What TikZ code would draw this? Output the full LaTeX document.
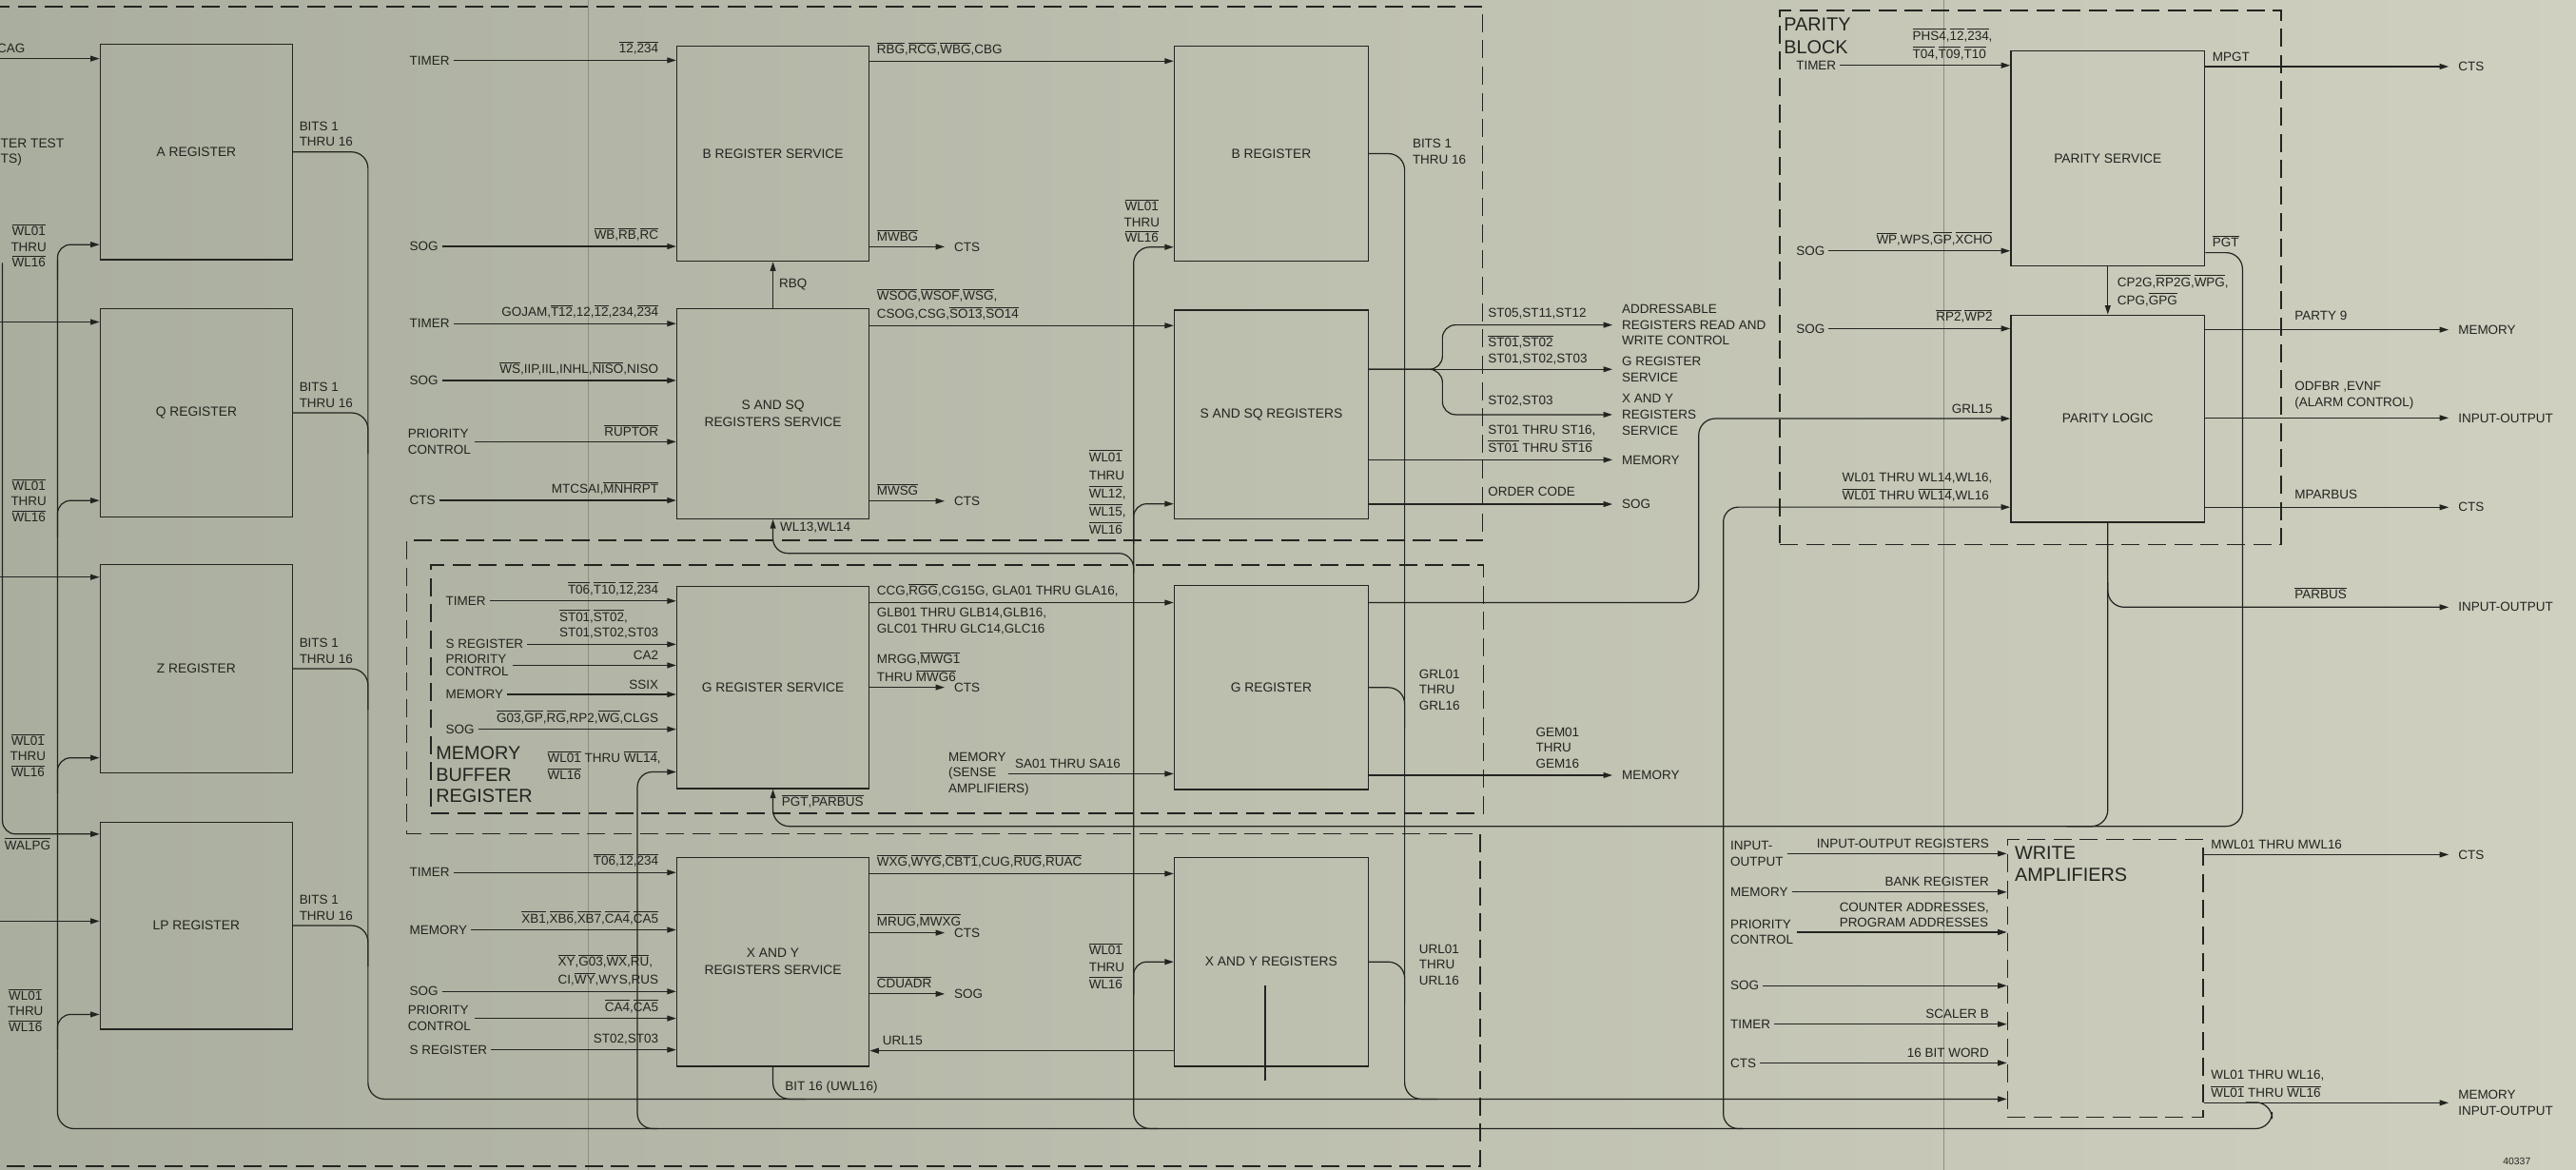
\documentclass[tikz,border=0pt]{standalone}
\usepackage{fontspec}
\setmainfont{Liberation Sans}
\usetikzlibrary{arrows.meta, positioning}

\definecolor{ink}{RGB}{34,36,32}
\definecolor{bgl}{RGB}{170,174,158}
\definecolor{bgm}{RGB}{192,196,180}
\definecolor{bgr}{RGB}{208,208,192}
\definecolor{crease}{RGB}{140,144,130}

\newcommand{\nsig}[1]{\leavevmode\vbox{\hrule height 0.5pt\kern 0.9pt\hbox{#1}}}

\begin{document}
\begin{tikzpicture}[
    x=1pt, y=-1pt, >={Triangle[length=5.5pt, width=3.4pt]},
    color=ink, line width=0.7pt,
    sig/.style={font=\fontsize{7.8}{11}\selectfont, inner sep=1.5pt, align=left},
    sig9/.style={sig, font=\fontsize{7.8}{9.6}\selectfont},
    src/.style={sig9, anchor=west, inner xsep=2pt},
    dest/.style={sig9, anchor=west, inner xsep=5.5pt},
    lin/.style={sig, pos=1, anchor=south east, xshift=-9pt, yshift=1.5pt},
    lout/.style={sig, pos=0, anchor=south west, xshift=2.5pt, yshift=1.5pt},
    tag/.style={sig, anchor=south west},
    regbox/.style={draw, line width=0.8pt, minimum width=117pt, inner sep=2pt,
                   align=center, font=\fontsize{8}{10.5}\selectfont},
    dashbox/.style={draw, line width=0.9pt, dash pattern=on 11pt off 5pt},
    bigtxt/.style={font=\fontsize{11.5}{13}\selectfont, align=left, inner sep=1.5pt}
  ]
  \useasboundingbox (0,0) rectangle (1568,712);
  \shade[left color=bgl, middle color=bgm, right color=bgr] (0,0) rectangle (1568,712);
  \draw[crease, line width=0.5pt] (358,0) -- (358,712);
  \draw[crease, line width=0.5pt] (1183,0) -- (1183,712);

  \draw[dashbox] (-5,4) -- (902.5,4) -- (902.5,329) -- (247.5,329) -- (247.5,507.5)
    -- (901,507.5) -- (901,710) -- (-5,710);
  \node[dashbox, minimum width=640.5pt, minimum height=151pt, anchor=north west] (mbr) at (262,343.5) {};
  \node[bigtxt, anchor=south west] (mbrtxt) at ([xshift=1.5pt, yshift=5pt]mbr.south west) {MEMORY\\BUFFER\\REGISTER};
  \node[dashbox, minimum width=305pt, minimum height=325pt, anchor=north west] (pblk) at (1083,6) {};
  \node[bigtxt, font=\fontsize{11.5}{14}\selectfont, anchor=north west] (pblktxt) at ([xshift=1pt, yshift=-3pt]pblk.north west) {PARITY\\BLOCK};

  \node[regbox, minimum height=131pt] (areg) at (119.5,92.5) {A REGISTER};
  \node[regbox, minimum height=127pt, below=29pt of areg] (qreg) {Q REGISTER};
  \node[regbox, minimum height=127pt, below=28pt of qreg] (zreg) {Z REGISTER};
  \node[regbox, minimum height=126pt, below=29pt of zreg] (lpreg) {LP REGISTER};

  \node[regbox, minimum height=131pt] (bserv) at (470.5,93.5) {B REGISTER SERVICE};
  \node[regbox, minimum height=128pt, below=28pt of bserv] (sserv) {S AND SQ\\REGISTERS SERVICE};
  \node[regbox, minimum height=123pt] (gserv) at (470.5,418.5) {G REGISTER SERVICE};
  \node[regbox, minimum height=127pt] (xserv) at (470.5,585.5) {X AND Y\\REGISTERS SERVICE};

  \node[regbox, minimum width=118pt, minimum height=131pt, right=185pt of bserv] (breg) {B REGISTER};
  \node[regbox, minimum width=118pt, minimum height=127pt, below=29pt of breg] (sreg) {S AND SQ REGISTERS};
  \node[regbox, minimum width=118pt, minimum height=124pt, right=185pt of gserv] (greg) {G REGISTER};
  \node[regbox, minimum width=118pt, minimum height=127pt, right=185pt of xserv] (xreg) {X AND Y REGISTERS};

  \node[regbox, minimum width=118pt, minimum height=131pt] (pserv) at (1283,96.5) {PARITY SERVICE};
  \node[regbox, minimum width=118pt, minimum height=126pt, below=29pt of pserv] (plogic) {PARITY LOGIC};
  \node[dashbox, minimum width=119pt, minimum height=169pt] (wamp) at (1281.5,595.5) {};
  \node[bigtxt, anchor=north west] (watxt) at ([xshift=3pt, yshift=-3pt]wamp.north west) {WRITE\\AMPLIFIERS};

  \coordinate (cagin) at (-2,35.7);
  \coordinate (qin) at (-2,196);
  \coordinate (zin) at (-2,351.3);
  \coordinate (lpin) at (-2,560.7);
  \coordinate (walpg) at (1.5,160);
  \node[tag] (cag) at (-3.5,34) {CAG};
  \node[sig9, font=\fontsize{8}{9.5}\selectfont, anchor=west] (ttest) at (-1.5,92.7) {TER TEST\\TS)};
  \draw[->] (cagin) -- (areg.west |- cagin);
  \draw[->] (qin) -- (qreg.west |- qin);
  \draw[->] (zin) -- (zreg.west |- zin);
  \draw[->] (lpin) -- (lpreg.west |- lpin);
  \draw[->, rounded corners=8pt] (walpg) |- ([yshift=-7.7pt]lpreg.north west);
  \node[sig, anchor=west] (walpgl) at (1,513.8) {\nsig{WALPG}};

  \coordinate (wlL) at (35,687);
  \coordinate (wlR) at (1383,687);
  \draw[rounded corners=10pt] (wlL |- areg.south) -- (wlL) -- (wlR) -- ++(0,-16) -- ++(-16,0);
  \draw[->, rounded corners=8pt] ([yshift=-12pt]wlL |- areg.south) |- ([yshift=9.5pt]areg.south west);
  \draw[->, rounded corners=8pt] ([yshift=-12pt]wlL |- qreg.south) |- ([yshift=10.5pt]qreg.south west);
  \draw[->, rounded corners=8pt] ([yshift=-12pt]wlL |- zreg.south) |- ([yshift=9.7pt]zreg.south west);
  \draw[->, rounded corners=8pt] ([yshift=-12pt]wlL |- lpreg.south) |- ([yshift=9.3pt]lpreg.south west);
  \node[sig9, align=center] (wla) at (17.5,149.5) {\nsig{WL01}\\THRU\\\nsig{WL16}};
  \node[sig9, align=center] (wlq) at (17.5,304.6) {\nsig{WL01}\\THRU\\\nsig{WL16}};
  \node[sig9, align=center] (wlz) at (17,459.8) {\nsig{WL01}\\THRU\\\nsig{WL16}};
  \node[sig9, align=center] (wllp) at (15.5,615) {\nsig{WL01}\\THRU\\\nsig{WL16}};

  \coordinate (bitL) at (224,669);
  \coordinate (bitR) at (855,669);
  \draw[->, rounded corners=10pt] (areg.east) -| (bitL) -- (wamp.west |- bitL);
  \draw[rounded corners=10pt] (qreg.east) -| ([yshift=-25pt]qreg.east -| bitL);
  \draw[rounded corners=10pt] (zreg.east) -| ([yshift=-25pt]zreg.east -| bitL);
  \draw[rounded corners=10pt] (lpreg.east) -| ([yshift=-25pt]lpreg.east -| bitL);
  \node[sig9, anchor=south west] (bitsa) at ([xshift=2pt, yshift=1.5pt]areg.east) {BITS 1\\THRU 16};
  \node[sig9, anchor=south west] (bitsq) at ([xshift=2pt, yshift=1.5pt]qreg.east) {BITS 1\\THRU 16};
  \node[sig9, anchor=south west] (bitsz) at ([xshift=2pt, yshift=1.5pt]zreg.east) {BITS 1\\THRU 16};
  \node[sig9, anchor=south west] (bitslp) at ([xshift=2pt, yshift=1.5pt]lpreg.east) {BITS 1\\THRU 16};

  \draw[rounded corners=10pt] (breg.east) -| (bitR) -- ++(20,0);
  \draw[rounded corners=10pt] (greg.east) -| ([yshift=-25pt]greg.east -| bitR);
  \draw[rounded corners=10pt] (xreg.east) -| ([yshift=-25pt]xreg.east -| bitR);
  \draw[rounded corners=10pt] (xserv.south) |- ([xshift=20pt]xserv.south |- bitL);
  \node[sig9, anchor=north west] (bitsb) at (858,83) {BITS 1\\THRU 16};
  \node[sig9, anchor=west] (grl) at (862,419.8) {GRL01\\THRU\\GRL16};
  \node[sig9, anchor=west] (url) at (862,587.3) {URL01\\THRU\\URL16};
  \node[sig, anchor=west] (bit16) at (476,662) {BIT 16 (UWL16)};

  \coordinate (wlM) at (690,687);
  \coordinate (wlG) at (388,687);
  \coordinate (wlP) at (1049,687);
  \draw[->, rounded corners=10pt] ([xshift=15pt]wlM) -- (wlM) |- ([yshift=9pt]breg.south west);
  \draw[->, rounded corners=8pt] ([yshift=-15pt]wlM |- sreg.south) |- ([yshift=9.5pt]sreg.south west);
  \draw[->, rounded corners=8pt] ([yshift=-20pt]wlM |- xreg.west) |- (xreg.west);
  \draw[->, rounded corners=9pt] ([yshift=-12pt]wlM |- 0,336.8) -- (wlM |- 0,336.8) -| (sserv.south);
  \draw[->, rounded corners=9pt] ([xshift=12pt]wlG) -- (wlG) |- ([yshift=10.5pt]gserv.south west);
  \node[sig9, align=center] (wlb) at (695,134.6) {\nsig{WL01}\\THRU\\\nsig{WL16}};
  \node[sig, anchor=west] (wls) at (661,299.5) {\nsig{WL01}\\THRU\\\nsig{WL12},\\\nsig{WL15},\\\nsig{WL16}};
  \node[sig9, font=\fontsize{7.8}{10.3}\selectfont, anchor=west] (wlx) at (661,588) {\nsig{WL01}\\THRU\\\nsig{WL16}};
  \node[sig, anchor=west] (wl1314) at (473,321.3) {WL13,WL14};
  \node[sig9, font=\fontsize{7.8}{10.1}\selectfont, anchor=west] (wlg) at (331.5,466) {\nsig{WL01} THRU \nsig{WL14},\\\nsig{WL16}};

  \node[src] (tm1) at (247,36.7) {TIMER};
  \draw[->] (tm1) -- (bserv.west |- tm1) node[lin] {\nsig{12},\nsig{234}};
  \node[src] (sg1) at (247,150) {SOG};
  \draw[->] (sg1) -- (bserv.west |- sg1) node[lin] {\nsig{WB},\nsig{RB},\nsig{RC}};
  \node[src] (tm2) at (247,197) {TIMER};
  \draw[->] (tm2) -- (sserv.west |- tm2) node[lin] {GOJAM,\nsig{T12},12,\nsig{12},234,\nsig{234}};
  \node[src] (sg2) at (247,231.6) {SOG};
  \draw[->] (sg2) -- (sserv.west |- sg2) node[lin] {\nsig{WS},IIP,IIL,INHL,\nsig{NISO},NISO};
  \node[src] (pr1) at (246,268.9) {PRIORITY\\CONTROL};
  \draw[->] (pr1) -- (sserv.west |- pr1) node[lin] {\nsig{RUPTOR}};
  \node[src] (ct1) at (247,304.6) {CTS};
  \draw[->] (ct1) -- (sserv.west |- ct1) node[lin] {MTCSAI,\nsig{MNHRPT}};

  \draw[->] ([yshift=-9.6pt]bserv.north east) -- ([yshift=-9.6pt]bserv.north east -| breg.west)
    node[lout] {\nsig{RBG},\nsig{RCG},\nsig{WBG},CBG};
  \node[dest] (cts5) at (575,150.2) {CTS};
  \draw[->] (bserv.east |- cts5) -- (cts5) node[lout] {\nsig{MWBG}};
  \draw[->] (sserv) -- (bserv) node[sig, midway, anchor=west, xshift=2pt] {RBQ};
  \draw[->] ([yshift=-10.8pt]sserv.north east) -- ([yshift=-10.8pt]sserv.north east -| sreg.west)
    node[lout] {\nsig{WSOG},\nsig{WSOF},\nsig{WSG},\\CSOG,CSG,\nsig{SO13},\nsig{SO14}};
  \node[dest] (cts6) at (575,305) {CTS};
  \draw[->] (sserv.east |- cts6) -- (cts6) node[lout] {\nsig{MWSG}};

  \node[src] (tm3) at (269,365.8) {TIMER};
  \draw[->] (tm3) -- (gserv.west |- tm3) node[lin] {\nsig{T06},\nsig{T10},\nsig{12},\nsig{234}};
  \node[src] (sr1) at (269,392.2) {S REGISTER};
  \draw[->] (sr1) -- (gserv.west |- sr1) node[lin, font=\fontsize{7.8}{9.6}\selectfont] {\nsig{ST01},\nsig{ST02},\\ST01,ST02,ST03};
  \node[src, font=\fontsize{7.8}{7.6}\selectfont] (pr2) at (269,405) {PRIORITY\\CONTROL};
  \draw[->] (pr2) -- (gserv.west |- pr2) node[lin] {CA2};
  \node[src] (me1) at (269,422.7) {MEMORY};
  \draw[->] (me1) -- (gserv.west |- me1) node[lin] {SSIX};
  \node[src] (sg3) at (269,443.9) {SOG};
  \draw[->] (sg3) -- (gserv.west |- sg3) node[lin] {\nsig{G03},\nsig{GP},\nsig{RG},RP2,\nsig{WG},CLGS};

  \draw[->] ([yshift=-10.2pt]gserv.north east) -- ([yshift=-10.2pt]gserv.north east -| greg.west)
    node[lout] {CCG,\nsig{RGG},CG15G, GLA01 THRU GLA16,}
    node[sig9, pos=0, anchor=north west, xshift=2.5pt, yshift=-1.5pt] {GLB01 THRU GLB14,GLB16,\\GLC01 THRU GLC14,GLC16};
  \node[dest] (cts3) at (575,418.4) {CTS};
  \draw[->] (gserv.east |- cts3) -- (cts3) node[lout] {MRGG,\nsig{MWG1}\\THRU \nsig{MWG6}};
  \node[sig9, anchor=west] (sense) at (575.5,471) {MEMORY\\(SENSE\\AMPLIFIERS)};
  \coordinate (sensout) at (613.5,471);
  \draw[->] (sensout) -- (greg.west |- sensout) node[lout] {SA01 THRU SA16};

  \coordinate (pgtR) at (1365,503);
  \draw[->, rounded corners=10pt] ([yshift=8.6pt]pserv.south east) -| (pgtR) node[lout] {\nsig{PGT}} -| (gserv.south);
  \draw[rounded corners=10pt] (plogic.south) |- ([xshift=-25pt]plogic.south |- pgtR);
  \node[sig, anchor=west] (pgtpar) at (474,487.9) {\nsig{PGT},\nsig{PARBUS}};

  \node[src] (tm4) at (247,531.1) {TIMER};
  \draw[->] (tm4) -- (xserv.west |- tm4) node[lin] {\nsig{T06},\nsig{12},\nsig{234}};
  \node[src] (me2) at (247,566) {MEMORY};
  \draw[->] (me2) -- (xserv.west |- me2) node[lin] {\nsig{XB1},\nsig{XB6},\nsig{XB7},\nsig{CA4},\nsig{CA5}};
  \node[src] (sg4) at (247,603.5) {SOG};
  \draw[->] (sg4) -- (xserv.west |- sg4) node[lin] {\nsig{XY},\nsig{G03},\nsig{WX},\nsig{RU},\\CI,\nsig{WY},WYS,RUS};
  \node[src] (pr3) at (246,619.9) {PRIORITY\\CONTROL};
  \draw[->] (pr3) -- (xserv.west |- pr3) node[lin] {\nsig{CA4},\nsig{CA5}};
  \node[src] (sr2) at (247,639) {S REGISTER};
  \draw[->] (sr2) -- (xserv.west |- sr2) node[lin] {ST02,ST03};

  \draw[->] ([yshift=-10.2pt]xserv.north east) -- ([yshift=-10.2pt]xserv.north east -| xreg.west)
    node[lout] {\nsig{WXG},\nsig{WYG},\nsig{CBT1},CUG,\nsig{RUG},\nsig{RUAC}};
  \node[dest] (cts4) at (575,567.8) {CTS};
  \draw[->] (xserv.east |- cts4) -- (cts4) node[lout] {\nsig{MRUG},\nsig{MWXG}};
  \node[dest] (sog3) at (575,605) {SOG};
  \draw[->] (xserv.east |- sog3) -- (sog3) node[lout] {\nsig{CDUADR}};
  \draw[->] ([yshift=9.8pt]xreg.south west) -- ([yshift=9.8pt]xreg.south west -| xserv.east)
    node[sig, pos=1, anchor=south west, xshift=6pt, yshift=1.5pt] {URL15};
  \draw[line width=1.1pt] (770,600) -- (770,658);

  \coordinate (fork) at (878,224.8);
  \node[dest] (addr) at (981.5,197.8) {ADDRESSABLE\\REGISTERS READ AND\\WRITE CONTROL};
  \node[dest] (gsv) at (981.5,224.8) {G REGISTER\\SERVICE};
  \node[dest] (xysv) at (981.5,252.4) {X AND Y\\REGISTERS\\SERVICE};
  \node[dest] (mem2) at (981.5,279.9) {MEMORY};
  \node[dest] (sog2) at (981.5,306.9) {SOG};
  \node[dest] (mem3) at (981.5,471.9) {MEMORY};
  \draw[->, rounded corners=8pt] (sreg.east |- fork) -- (fork) |- (addr);
  \draw[->] (sreg.east |- fork) -- (gsv);
  \draw[->, rounded corners=8pt] (sreg.east |- fork) -- (fork) |- (xysv);
  \draw[->] (sreg.east |- mem2) -- (mem2);
  \draw[->] (sreg.east |- sog2) -- (sog2);
  \draw[->] (greg.east |- mem3) -- (mem3);
  \node[tag] (st1) at (904,196) {ST05,ST11,ST12};
  \node[tag, font=\fontsize{7.8}{9.7}\selectfont] (st2) at (904,223.5) {\nsig{ST01},\nsig{ST02}\\ST01,ST02,ST03};
  \node[tag] (st3) at (904,249.5) {ST02,ST03};
  \node[tag, font=\fontsize{7.8}{10.6}\selectfont] (st4) at (904,277) {ST01 THRU ST16,\\\nsig{ST01} THRU \nsig{ST16}};
  \node[tag] (ordc) at (904,304) {ORDER CODE};
  \node[tag, font=\fontsize{7.8}{9.6}\selectfont] (gem) at (933,469.5) {GEM01\\THRU\\GEM16};

  \coordinate (grlx) at (1034,310);
  \draw[->, rounded corners=10pt] ([yshift=-10.7pt]greg.north east) -| (grlx) |- (plogic.west) node[lin] {GRL15};
  \draw[->, rounded corners=9pt] ([xshift=12pt]wlP) -- (wlP) |- ([yshift=9.5pt]plogic.south west)
    node[lin] {WL01 THRU WL14,WL16,\\\nsig{WL01} THRU \nsig{WL14},WL16};

  \node[src] (tmp) at (1091,39.8) {TIMER};
  \draw[->] (tmp) -- (pserv.west |- tmp) node[lin] {\nsig{PHS4},\nsig{12},\nsig{234},\\\nsig{T04},\nsig{T09},\nsig{T10}};
  \node[src] (sgp) at (1091,152.7) {SOG};
  \draw[->] (sgp) -- (pserv.west |- sgp) node[lin] {\nsig{WP},WPS,\nsig{GP},\nsig{XCHO}};
  \node[src] (sgl) at (1091,200) {SOG};
  \draw[->] (sgl) -- (plogic.west |- sgl) node[lin] {\nsig{RP2},\nsig{WP2}};
  \draw[->] (pserv) -- (plogic) node[sig, midway, anchor=west, xshift=4pt] {CP2G,\nsig{RP2G},\nsig{WPG},\\CPG,\nsig{GPG}};

  \node[dest] (cts1) at (1490.5,40.5) {CTS};
  \draw[->] (pserv.east |- cts1) -- (cts1) node[lout] {MPGT};
  \node[dest] (mem1) at (1490.5,200.7) {MEMORY};
  \draw[->] (plogic.east |- mem1) -- (mem1);
  \node[tag] (party) at (1395,197) {PARTY 9};
  \node[dest] (io1) at (1490.5,254.4) {INPUT-OUTPUT};
  \draw[->] (plogic.east |- io1) -- (io1);
  \node[tag, font=\fontsize{7.8}{9.6}\selectfont] (odfbr) at (1395,251) {ODFBR ,EVNF\\(ALARM CONTROL)};
  \node[dest] (cts2) at (1490.5,308.8) {CTS};
  \draw[->] (plogic.east |- cts2) -- (cts2);
  \node[tag] (mparbus) at (1395,305.5) {MPARBUS};
  \node[dest] (io2) at (1490.5,369.6) {INPUT-OUTPUT};
  \draw[->, rounded corners=10pt] ([yshift=15pt]plogic.south |- io2) |- (io2);
  \node[tag] (parbus) at (1395,366.5) {\nsig{PARBUS}};

  \node[src] (wio) at (1051,519.6) {INPUT-\\OUTPUT};
  \draw[->] (wio) -- (wamp.west |- wio) node[lin] {INPUT-OUTPUT REGISTERS};
  \node[src] (wme) at (1051,543) {MEMORY};
  \draw[->] (wme) -- (wamp.west |- wme) node[lin] {BANK REGISTER};
  \node[src] (wpr) at (1051,567.4) {PRIORITY\\CONTROL};
  \draw[->] (wpr) -- (wamp.west |- wpr) node[lin, font=\fontsize{7.8}{9}\selectfont] {COUNTER ADDRESSES,\\PROGRAM ADDRESSES};
  \node[src] (wsg) at (1051,600) {SOG};
  \draw[->] (wsg) -- (wamp.west |- wsg);
  \node[src] (wtm) at (1051,623.4) {TIMER};
  \draw[->] (wtm) -- (wamp.west |- wtm) node[lin] {SCALER B};
  \node[src] (wct) at (1051,647) {CTS};
  \draw[->] (wct) -- (wamp.west |- wct) node[lin] {16 BIT WORD};

  \node[dest] (cts7) at (1490.5,520.2) {CTS};
  \draw[->] (wamp.east |- cts7) -- (cts7) node[lout] {MWL01 THRU MWL16};
  \node[dest] (meio) at (1490.5,671.3) {MEMORY\\INPUT-OUTPUT};
  \draw[->] (wamp.east |- meio) -- (meio) node[lout] {WL01 THRU WL16,\\\nsig{WL01} THRU \nsig{WL16}};

  \node[sig, font=\fontsize{6}{7}\selectfont] (docno) at (1532,707) {40337};
\end{tikzpicture}
\end{document}
